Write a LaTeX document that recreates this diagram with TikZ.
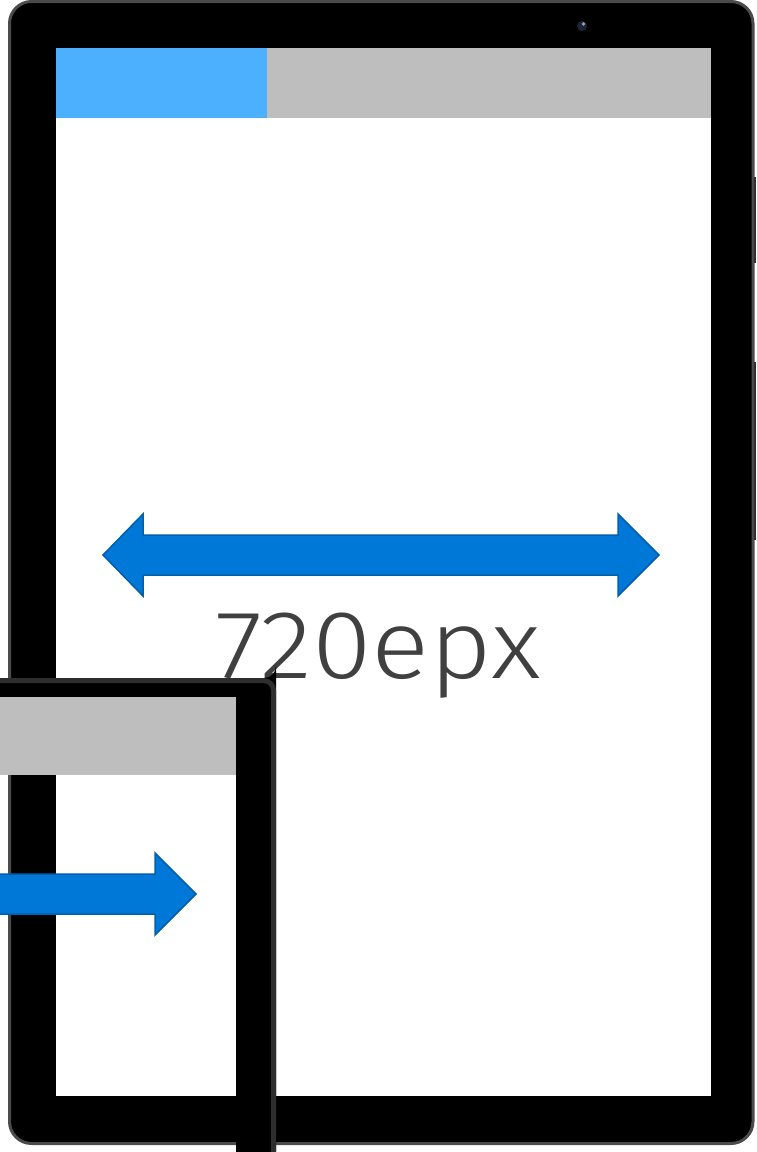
\documentclass[tikz,border=0pt]{standalone}
\usepackage{fontspec}
\usepackage{graphicx}
\newfontfamily\labelfont{Fira Sans Light}
\definecolor{bezeledge}{HTML}{4B4B4B}
\definecolor{phoneedge}{HTML}{2E2E2E}
\definecolor{tabblue}{HTML}{4DB0FF}
\definecolor{bargray}{HTML}{BEBEBE}
\definecolor{arrowfill}{HTML}{0078D7}
\definecolor{arrowline}{HTML}{005FAE}
\definecolor{labelgray}{HTML}{404040}
\definecolor{camera}{HTML}{1A2636}
\tikzset{
  tabletbody/.style={fill=black, draw=bezeledge, line width=3pt, rounded corners=22pt},
  sidebutton/.style={draw=phoneedge, line width=2pt},
  fatarrow/.style={fill=arrowfill, draw=arrowline, line width=1.5pt, line join=miter},
  phonebody/.style={fill=black},
  phonerim/.style={draw=phoneedge, line width=5pt},
}
\begin{document}
\begin{tikzpicture}[x=1pt,y=-1pt]
  \useasboundingbox (0,0) rectangle (756,1152);
  \fill[white] (0,0) rectangle (756,1152);

  % tablet: body, screen and title bar
  \draw[tabletbody] (9.5,1.5) rectangle (753,1143.5);
  \draw[sidebutton] (755,177) -- (755,263);
  \draw[sidebutton] (755,362) -- (755,540);
  \fill[camera] (582,26) circle (5);
  \fill[white!55!camera] (583.5,24) circle (1.8);
  \fill[white] (56,48) rectangle (711,1096);
  \fill[tabblue] (56,48) rectangle (267,118);
  \fill[bargray] (267,48) rectangle (711,118);

  % width arrow and its label
  \draw[fatarrow] (103,555) -- (143,514) -- (143,535) -- (618,535) -- (618,514)
    -- (659,555) -- (618,596) -- (618,575) -- (143,575) -- (143,596) -- cycle;
  \node[text=labelgray, anchor=base, inner sep=0pt, font=\labelfont\fontsize{101}{101}\selectfont]
    (width) at (378,678) {\scalebox{1.07}[0.96]{720epx}};

  % phone in front, partly outside the picture
  \fill[phonebody] (-20,678) -- (264,678) arc[start angle=90, end angle=0, radius=12]
    -- (276,1170) -- (236,1170) -- (236,697) -- (-20,697) -- cycle;
  \draw[phonerim, rounded corners=10pt] (-20,680.5) -- (273.5,680.5) -- (273.5,1170);
  \fill[bargray] (-20,697) rectangle (236,775);
  \draw[fatarrow] (-30,874) -- (155,874) -- (155,853) -- (196,894) -- (155,935)
    -- (155,914) -- (-30,914) -- cycle;
\end{tikzpicture}
\end{document}
